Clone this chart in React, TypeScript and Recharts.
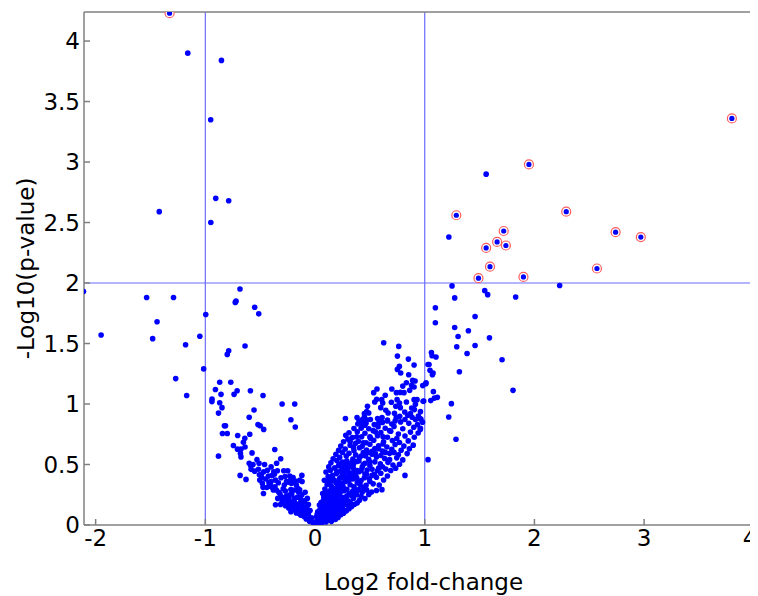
import React from 'react';
import { ScatterChart, Scatter, XAxis, YAxis, ReferenceLine } from 'recharts';

// ---------- data (log2 fold-change, -log10 p-value) ----------
const xTicks = [-2, -1, 0, 1, 2, 3, 4];
const yTicks = [0, 0.5, 1, 1.5, 2, 2.5, 3, 3.5, 4];
const foldCutoffs = [-1, 1];
const pCutoff = 2;

// significant genes (circled)
const significant: [number, number][] = [
  [-1.326, 4.23], [1.95, 2.98], [1.288, 2.56], [2.29, 2.59], [1.72, 2.43], [1.66, 2.34],
  [1.74, 2.31], [1.56, 2.29], [2.74, 2.42], [2.97, 2.38], [1.595, 2.135], [2.57, 2.12],
  [1.49, 2.04], [1.9, 2.05], [3.8, 3.36],
];

// sparse outliers, left side
const outliersLeft: [number, number][] = [
  [-1.16, 3.9], [-0.853, 3.84], [-0.951, 3.35], [-0.905, 2.7], [-0.787, 2.68], [-1.42, 2.59],
  [-0.95, 2.5], [-2.11, 1.93], [-1.535, 1.88], [-1.29, 1.88], [-1.95, 1.57], [-1.44, 1.68],
  [-1.48, 1.54], [-1.18, 1.49], [-1.05, 1.56], [-1.27, 1.21], [-1.17, 1.07],
  [-0.684, 1.95], [-0.727, 1.84], [-0.72, 1.85], [-0.55, 1.8], [-0.513, 1.745], [-0.996, 1.74],
  [-0.638, 1.48], [-0.787, 1.44], [-0.8, 1.41], [-1.015, 1.29], [-0.869, 1.18], [-0.768, 1.18],
  [-0.908, 1.12], [-0.71, 1.11], [-0.589, 1.11], [-0.857, 1.08], [-0.738, 1.08], [-0.474, 1.07],
  [-0.939, 1.04],
];

// sparse outliers, right side
const outliersRight: [number, number][] = [
  [1.56, 2.9], [1.22, 2.38], [2.23, 1.98],
  [1.249, 1.976], [1.273, 1.877], [1.547, 1.937], [1.574, 1.904], [1.829, 1.885], [1.097, 1.795],
  [1.097, 1.671], [1.459, 1.723], [1.273, 1.632], [1.398, 1.605], [1.304, 1.558], [1.59, 1.547],
  [1.292, 1.473], [1.459, 1.484], [1.386, 1.418], [1.705, 1.366], [1.061, 1.426], [1.067, 1.399],
  [1.103, 1.388], [1.039, 1.327], [1.048, 1.278], [1.076, 1.256], [1.07, 1.242], [1.316, 1.267],
  [0.982, 1.152], [1.012, 1.176], [1.079, 1.102], [1.088, 1.049], [1.115, 1.055], [1.055, 1.028],
  [0.985, 1.022], [1.805, 1.113], [1.243, 1.003], [0.961, 0.937], [1.219, 0.893], [0.961, 0.8],
  [1.285, 0.709], [0.955, 0.88], [1.03, 0.54],
];

// down-regulated arm of the volcano
const cloudLeft: [number, number][] = [
  [-0.94, 1.02], [-0.869, 1.01], [-0.848, 0.97], [-0.88, 0.925], [-0.556, 0.95], [-0.3, 1.0],
  [-0.185, 1.0], [-0.6, 0.89], [-0.22, 0.87], [-0.18, 0.81], [-0.826, 0.82], [-0.816, 0.82],
  [-0.52, 0.83], [-0.5, 0.82], [-0.468, 0.79], [-0.844, 0.756], [-0.8, 0.756], [-0.705, 0.74],
  [-0.595, 0.75], [-0.64, 0.717], [-0.653, 0.684], [-0.744, 0.657], [-0.707, 0.627], [-0.675, 0.627],
  [-0.638, 0.645], [-0.367, 0.624], [-0.88, 0.569], [-0.68, 0.59], [-0.675, 0.563], [-0.574, 0.596],
  [-0.53, 0.54], [-0.313, 0.547], [-0.6, 0.51], [-0.586, 0.49], [-0.565, 0.5], [-0.51, 0.51],
  [-0.35, 0.51], [-0.583, 0.46], [-0.55, 0.445], [-0.516, 0.46], [-0.49, 0.42], [-0.468, 0.44],
  [-0.434, 0.453], [-0.376, 0.44], [-0.343, 0.448], [-0.285, 0.448], [-0.249, 0.448], [-0.683, 0.41],
  [-0.629, 0.377], [-0.507, 0.415], [-0.486, 0.393], [-0.504, 0.371], [-0.425, 0.404], [-0.39, 0.41],
  [-0.273, 0.4], [-0.23, 0.404], [-0.2, 0.393], [-0.36, 0.371], [-0.334, 0.349], [-0.48, 0.344],
  [-0.474, 0.311], [-0.42, 0.352], [-0.41, 0.336], [-0.24, 0.354], [-0.215, 0.344], [-0.18, 0.363],
  [-0.118, 0.36], [-0.39, 0.311], [-0.365, 0.316], [-0.352, 0.289], [-0.47, 0.26], [-0.32, 0.26],
  [-0.306, 0.233], [-0.34, 0.22], [-0.294, 0.206], [-0.22, 0.294], [-0.212, 0.256], [-0.188, 0.289],
  [-0.155, 0.302], [-0.151, 0.272], [-0.264, 0.206], [-0.24, 0.22], [-0.228, 0.19], [-0.36, 0.167],
  [-0.315, 0.17], [-0.19, 0.22], [-0.185, 0.179], [-0.164, 0.157], [-0.13, 0.212], [-0.124, 0.162],
  [-0.094, 0.192], [-0.085, 0.151],
  [-0.02, 0.02], [-0.05, 0.03], [-0.03, 0.06], [-0.08, 0.05], [-0.1, 0.07], [-0.06, 0.09],
  [-0.13, 0.08], [-0.15, 0.1], [-0.09, 0.11], [-0.12, 0.12], [-0.18, 0.12], [-0.21, 0.13],
  [-0.16, 0.14], [-0.07, 0.13], [-0.11, 0.15], [-0.2, 0.15], [-0.24, 0.14], [-0.27, 0.16],
  [-0.14, 0.18], [-0.1, 0.2], [-0.22, 0.18], [-0.3, 0.19], [-0.16, 0.23], [-0.12, 0.25],
  [-0.26, 0.24], [-0.31, 0.23], [-0.27, 0.28], [-0.14, 0.29], [-0.17, 0.33], [-0.28, 0.33],
  [-0.44, 0.31], [-0.14, 0.37], [-0.22, 0.38], [-0.4, 0.36], [-0.12, 0.41], [-0.09, 0.27],
  [-0.07, 0.22], [-0.06, 0.17], [-0.045, 0.12],
  [-0.05, 0.05], [-0.09, 0.09], [-0.17, 0.1], [-0.22, 0.11], [-0.25, 0.17], [-0.19, 0.2],
  [-0.23, 0.25], [-0.28, 0.22], [-0.33, 0.27], [-0.38, 0.29], [-0.42, 0.32], [-0.29, 0.3],
  [-0.26, 0.36], [-0.31, 0.39], [-0.37, 0.42], [-0.45, 0.38], [-0.4, 0.48], [-0.46, 0.5],
];

// up-regulated arm of the volcano (upper part)
const cloudRightUpper: [number, number][] = [
  [0.626, 1.506], [0.763, 1.476], [0.751, 1.396], [0.851, 1.371], [0.903, 1.322], [0.769, 1.311],
  [0.751, 1.286], [0.781, 1.256], [0.854, 1.242], [1.03, 1.327], [0.89, 1.195], [0.912, 1.19],
  [0.833, 1.176], [0.88, 1.154], [0.903, 1.14], [1.01, 1.168], [0.8, 1.148], [0.863, 1.113],
  [0.811, 1.094], [0.778, 1.096], [0.7, 1.124], [0.742, 1.094], [0.565, 1.124], [0.535, 1.094],
  [0.64, 1.072], [0.608, 1.036], [0.617, 1.008], [0.562, 1.039], [0.544, 1.017], [0.599, 0.97],
  [0.696, 1.014], [0.748, 1.036], [0.77, 1.008], [0.736, 0.981], [0.778, 0.97], [0.833, 1.017],
  [0.903, 1.036], [0.93, 1.036], [0.915, 0.998], [0.991, 1.025], [0.478, 0.981], [0.471, 0.937],
  [0.45, 0.921], [0.49, 0.926], [0.645, 0.948], [0.666, 0.926], [0.611, 0.888], [0.584, 0.871],
  [0.724, 0.923], [0.772, 0.899], [0.818, 0.934], [0.845, 0.907], [0.87, 0.921], [0.881, 0.967],
  [0.906, 0.954], [0.942, 0.9], [0.915, 0.871], [0.277, 0.88], [0.383, 0.888], [0.401, 0.86],
  [0.432, 0.871], [0.426, 0.838], [0.453, 0.824],
];

// up-regulated arm of the volcano (dense core)
const cloudRightCore: [number, number][] = [
  [0.01, 0.015], [0.03, 0.03], [0.055, 0.012], [0.02, 0.045], [0.07, 0.035], [0.045, 0.055], [0.09, 0.05], [0.12, 0.04],
  [0.015, 0.07], [0.06, 0.075], [0.105, 0.065], [0.14, 0.058], [0.175, 0.072], [0.085, 0.088], [0.21, 0.062], [0.125, 0.082],
  [0.035, 0.095], [0.07, 0.105], [0.15, 0.092], [0.19, 0.1], [0.235, 0.085], [0.26, 0.098], [0.11, 0.113], [0.165, 0.118],
  [0.045, 0.128], [0.095, 0.135], [0.13, 0.126], [0.205, 0.122], [0.24, 0.131], [0.285, 0.116], [0.31, 0.135], [0.18, 0.142], [0.06, 0.15],
  [0.09, 0.16], [0.115, 0.152], [0.145, 0.166], [0.225, 0.155], [0.265, 0.17], [0.335, 0.152], [0.36, 0.172], [0.195, 0.176], [0.3, 0.161],
  [0.055, 0.185], [0.075, 0.2], [0.13, 0.19], [0.17, 0.198], [0.24, 0.187], [0.275, 0.205], [0.32, 0.19], [0.385, 0.183], [0.405, 0.205], [0.21, 0.212],
  [0.1, 0.222], [0.15, 0.228], [0.185, 0.235], [0.255, 0.226], [0.29, 0.24], [0.35, 0.222], [0.42, 0.235], [0.455, 0.218], [0.12, 0.248], [0.225, 0.252],
  [0.07, 0.26], [0.165, 0.265], [0.205, 0.274], [0.31, 0.258], [0.34, 0.276], [0.375, 0.262], [0.49, 0.252], [0.515, 0.272], [0.265, 0.283], [0.135, 0.282],
  [0.09, 0.298], [0.18, 0.3], [0.235, 0.308], [0.29, 0.295], [0.4, 0.292], [0.44, 0.31], [0.56, 0.285], [0.61, 0.292], [0.355, 0.315], [0.15, 0.318],
  [0.11, 0.335], [0.205, 0.33], [0.25, 0.345], [0.32, 0.333], [0.465, 0.328], [0.53, 0.34], [0.385, 0.35], [0.585, 0.33], [0.14, 0.355], [0.28, 0.36],
  [0.085, 0.37], [0.175, 0.372], [0.225, 0.385], [0.345, 0.38], [0.42, 0.368], [0.495, 0.382], [0.625, 0.372], [0.56, 0.395], [0.3, 0.398], [0.12, 0.4],
  [0.16, 0.41], [0.195, 0.425], [0.265, 0.415], [0.37, 0.408], [0.455, 0.422], [0.52, 0.41], [0.66, 0.405], [0.82, 0.41], [0.6, 0.428], [0.315, 0.432],
  [0.1, 0.438], [0.14, 0.452], [0.235, 0.445], [0.285, 0.458], [0.4, 0.44], [0.475, 0.455], [0.57, 0.448], [0.69, 0.45], [0.645, 0.462], [0.35, 0.468],
  [0.125, 0.48], [0.18, 0.472], [0.215, 0.49], [0.33, 0.485], [0.43, 0.478], [0.5, 0.492], [0.615, 0.482], [0.735, 0.47], [0.71, 0.495], [0.27, 0.5],
  [0.145, 0.515], [0.25, 0.52], [0.305, 0.508], [0.38, 0.525], [0.455, 0.51], [0.545, 0.522], [0.595, 0.505], [0.665, 0.518], [0.77, 0.502], [0.2, 0.532],
  [0.165, 0.548], [0.225, 0.56], [0.345, 0.545], [0.405, 0.558], [0.49, 0.542], [0.56, 0.562], [0.635, 0.55], [0.745, 0.555], [0.8, 0.538], [0.285, 0.57],
  [0.19, 0.585], [0.31, 0.592], [0.37, 0.58], [0.44, 0.598], [0.52, 0.585], [0.6, 0.575], [0.68, 0.592], [0.76, 0.58], [0.84, 0.59], [0.25, 0.6],
  [0.215, 0.618], [0.275, 0.628], [0.355, 0.615], [0.47, 0.62], [0.545, 0.632], [0.615, 0.612], [0.7, 0.625], [0.785, 0.618], [0.86, 0.63], [0.405, 0.638],
  [0.235, 0.652], [0.32, 0.66], [0.43, 0.65], [0.5, 0.668], [0.58, 0.655], [0.655, 0.645], [0.73, 0.665], [0.81, 0.652], [0.895, 0.66], [0.37, 0.675],
  [0.26, 0.688], [0.395, 0.692], [0.465, 0.68], [0.535, 0.7], [0.625, 0.688], [0.705, 0.698], [0.77, 0.682], [0.85, 0.695], [0.3, 0.71],
  [0.34, 0.722], [0.425, 0.73], [0.505, 0.718], [0.57, 0.738], [0.66, 0.725], [0.745, 0.715], [0.82, 0.735], [0.905, 0.725], [0.28, 0.742],
  [0.31, 0.762], [0.385, 0.77], [0.455, 0.758], [0.6, 0.765], [0.69, 0.775], [0.76, 0.752], [0.87, 0.768], [0.94, 0.76], [0.53, 0.78],
  [0.355, 0.798], [0.425, 0.81], [0.49, 0.795], [0.575, 0.812], [0.64, 0.8], [0.72, 0.815], [0.8, 0.795], [0.9, 0.808], [0.96, 0.79],
  [0.39, 0.835], [0.465, 0.842], [0.54, 0.83], [0.615, 0.848], [0.7, 0.835], [0.78, 0.852], [0.855, 0.84], [0.935, 0.83], [0.98, 0.85],
  [0.505, 0.872], [0.57, 0.88], [0.66, 0.868], [0.74, 0.885], [0.82, 0.872], [0.885, 0.89], [0.965, 0.875], [0.45, 0.895],
  [0.025, 0.11], [0.05, 0.085], [0.08, 0.12], [0.1, 0.095], [0.135, 0.105], [0.16, 0.14], [0.205, 0.15], [0.25, 0.145],
  [0.105, 0.175], [0.145, 0.21], [0.185, 0.16], [0.17, 0.25], [0.23, 0.2], [0.28, 0.225], [0.195, 0.29], [0.255, 0.32],
  [0.215, 0.355], [0.265, 0.385], [0.155, 0.39], [0.08, 0.23], [0.035, 0.07], [0.065, 0.025], [0.1, 0.025], [0.15, 0.03],
  [0.185, 0.045], [0.04, 0.165], [0.22, 0.11], [0.27, 0.12], [0.3, 0.2], [0.33, 0.245], [0.38, 0.25], [0.43, 0.27],
  [0.47, 0.29], [0.36, 0.3], [0.41, 0.335], [0.5, 0.36], [0.45, 0.39], [0.54, 0.42], [0.385, 0.45], [0.44, 0.5],
  [0.52, 0.46], [0.58, 0.47], [0.34, 0.52], [0.42, 0.57], [0.48, 0.6], [0.55, 0.59], [0.68, 0.54], [0.72, 0.6], [0.64, 0.6],
  [0.02, 0.09], [0.06, 0.11], [0.12, 0.16], [0.08, 0.14], [0.17, 0.21], [0.13, 0.23], [0.2, 0.26], [0.24, 0.28],
  [0.1, 0.27], [0.16, 0.3], [0.22, 0.32], [0.12, 0.36], [0.19, 0.35], [0.24, 0.4], [0.2, 0.44], [0.31, 0.37],
  [0.27, 0.44], [0.33, 0.41], [0.38, 0.39], [0.36, 0.44], [0.3, 0.47], [0.25, 0.47], [0.42, 0.45], [0.47, 0.42],
  [0.22, 0.5], [0.29, 0.53], [0.35, 0.5], [0.4, 0.53], [0.5, 0.52], [0.46, 0.57], [0.52, 0.61], [0.58, 0.63],
  [0.62, 0.67], [0.44, 0.68], [0.5, 0.73], [0.55, 0.77], [0.62, 0.73], [0.68, 0.78], [0.58, 0.84], [0.66, 0.86],
  [0.73, 0.86], [0.35, 0.64], [0.32, 0.69], [0.38, 0.73], [0.42, 0.8], [0.47, 0.87],
];

const toPts = (arr: [number, number][]) => arr.map(([x, y]) => ({ x, y }));

const BLUE = '#0000ff';
const FONT = 'DejaVu Sans';
const FS = 23;

const Dot = (p: any) => <circle cx={p.cx} cy={p.cy} r={2.8} fill={BLUE} />;
const RingDot = (p: any) => (
  <g>
    <circle cx={p.cx} cy={p.cy} r={4.5} fill="#ffffff" stroke="#ff5c5c" strokeWidth={1.2} />
    <circle cx={p.cx} cy={p.cy} r={2.6} fill={BLUE} />
  </g>
);

const XTick = (p: any) => {
  const cx = Math.min(p.x, 742);
  return (
    <text x={cx} y={p.y} dy="0.71em" textAnchor="middle" fill="#000" fontSize={FS} fontFamily={FONT}>
      {p.payload.value}
    </text>
  );
};

const tickStyle = { fill: '#000000', fontSize: FS, fontFamily: FONT };

export default function App() {
  const xDom: [number, number] = [-2.106, 4.029];
  const yDom: [number, number] = [0, 4.24];
  return (
    <div style={{ width: 750, height: 588 }}>
      <ScatterChart width={750} height={588} margin={{ top: 0, right: 0, bottom: 0, left: 0 }}>
        <XAxis
          xAxisId="b"
          type="number"
          dataKey="x"
          orientation="bottom"
          domain={xDom}
          allowDataOverflow
          ticks={xTicks}
          height={71}
          tickSize={-6}
          tickMargin={11}
          stroke="#808080"
          strokeWidth={1.5}
          tick={<XTick />}
          label={{ value: 'Log2 fold-change', position: 'insideBottom', offset: 6, dx: 3, style: { fill: '#000', fontSize: FS, fontFamily: FONT } }}
        />
        <XAxis
          xAxisId="t"
          type="number"
          dataKey="x"
          orientation="top"
          domain={xDom}
          allowDataOverflow
          ticks={xTicks}
          height={4}
          tickSize={-6}
          stroke="#808080"
          strokeWidth={1.5}
          tick={false}
        />
        <YAxis
          yAxisId="l"
          type="number"
          dataKey="y"
          orientation="left"
          domain={yDom}
          allowDataOverflow
          ticks={yTicks}
          width={76}
          tickSize={-6}
          tickMargin={10}
          stroke="#808080"
          strokeWidth={1.5}
          tick={tickStyle}
          label={{ value: '-Log10(p-value)', angle: -90, position: 'insideLeft', offset: 18, style: { textAnchor: 'middle', fill: '#000', fontSize: FS, fontFamily: FONT } }}
        />
        <YAxis
          yAxisId="r"
          type="number"
          dataKey="y"
          orientation="right"
          domain={yDom}
          allowDataOverflow
          ticks={yTicks}
          width={1}
          tickSize={-6}
          stroke="#808080"
          strokeWidth={1.5}
          tick={false}
        />
        {foldCutoffs.map((v) => (
          <ReferenceLine key={v} x={v} xAxisId="b" yAxisId="l" stroke="#6b6bff" strokeWidth={1.2} />
        ))}
        <ReferenceLine y={pCutoff} xAxisId="b" yAxisId="l" stroke="#6b6bff" strokeWidth={1.2} />
        <Scatter xAxisId="b" yAxisId="l" data={toPts(cloudRightCore)} shape={Dot} isAnimationActive={false} />
        <Scatter xAxisId="b" yAxisId="l" data={toPts(cloudRightUpper)} shape={Dot} isAnimationActive={false} />
        <Scatter xAxisId="b" yAxisId="l" data={toPts(cloudLeft)} shape={Dot} isAnimationActive={false} />
        <Scatter xAxisId="b" yAxisId="l" data={toPts(outliersLeft)} shape={Dot} isAnimationActive={false} />
        <Scatter xAxisId="b" yAxisId="l" data={toPts(outliersRight)} shape={Dot} isAnimationActive={false} />
        <Scatter xAxisId="b" yAxisId="l" data={toPts(significant)} shape={RingDot} isAnimationActive={false} />
      </ScatterChart>
    </div>
  );
}
